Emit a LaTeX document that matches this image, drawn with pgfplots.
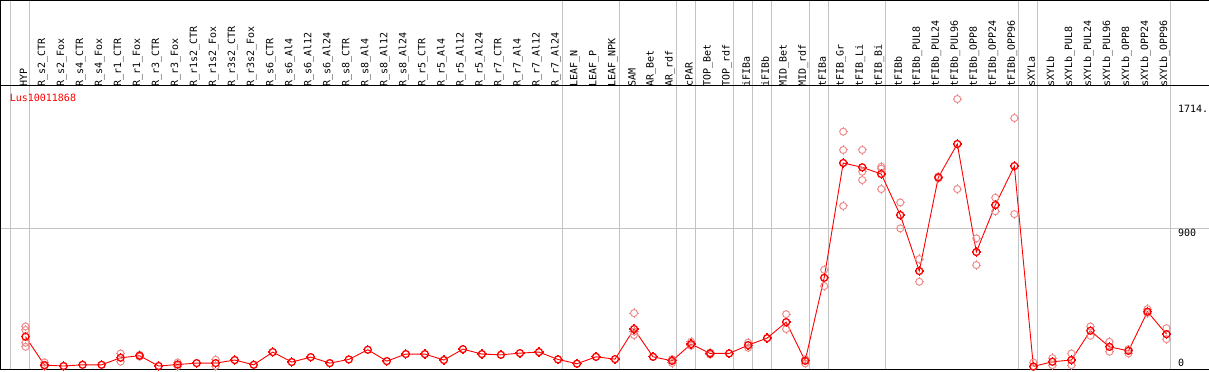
\documentclass[border=0pt]{standalone}
\usepackage{pgfplots}
\pgfplotsset{compat=1.18}
\usepackage{pgfplotstable}
\usepackage{fontspec}
\setmainfont{DejaVu Sans}
\newfontfamily\mono{DejaVu Sans Mono}
\definecolor{meanred}{RGB}{255,0,0}
\definecolor{reppink}{RGB}{238,140,140}
\definecolor{sepgray}{RGB}{195,195,195}

\pgfdeclareplotmark{ringtick}{%
  \pgfpathcircle{\pgfpointorigin}{3.5pt}\pgfusepathqstroke
  \pgfpathmoveto{\pgfpoint{0pt}{3.5pt}}\pgfpathlineto{\pgfpoint{0pt}{4.6pt}}%
  \pgfpathmoveto{\pgfpoint{0pt}{-3.5pt}}\pgfpathlineto{\pgfpoint{0pt}{-4.6pt}}%
  \pgfpathmoveto{\pgfpoint{3.5pt}{0pt}}\pgfpathlineto{\pgfpoint{4.6pt}{0pt}}%
  \pgfpathmoveto{\pgfpoint{-3.5pt}{0pt}}\pgfpathlineto{\pgfpoint{-4.6pt}{0pt}}%
  \pgfusepathqstroke}

\pgfplotstableread{
x v
0 196
1 11
2 5
3 13
4 13
5 59
6 72
7 5
8 15
9 24
10 24
11 44
12 13
13 96
14 31
15 63
16 24
17 48
18 111
19 37
20 83
21 83
22 44
23 115
24 83
25 78
26 89
27 96
28 48
29 20
30 65
31 50
32 246
33 65
34 39
35 148
36 87
37 87
38 141
39 187
40 291
41 39
42 580
43 1328
44 1300
45 1256
46 989
47 624
48 1234
49 1452
50 748
51 1054
52 1308
53 2
54 33
55 44
56 235
57 130
58 104
59 359
60 213
}\meantable

\pgfplotstableread{
x v
0 263
0 240
0 157
0 130
1 28
1 5
5 87
5 33
6 78
6 66
8 28
8 5
10 46
10 5
32 350
32 207
32 230
34 50
34 25
35 163
35 137
36 92
36 80
38 157
38 124
40 343
40 246
41 50
41 22
42 632
42 526
43 1532
43 1413
43 1048
44 1413
44 1271
44 1217
45 1304
45 1291
45 1158
46 1071
46 902
47 702
47 554
48 1240
48 1228
49 1745
49 1158
50 837
50 663
51 1102
51 1013
52 1621
52 995
53 28
53 0
54 57
54 11
55 87
55 11
56 263
56 202
57 163
57 98
58 87
58 115
59 376
59 350
60 252
60 180
}\reptable

\begin{document}
\begin{tikzpicture}
\begin{axis}[
  scale only axis,
  width=1207pt, height=284pt,
  xmin=-1.316, xmax=62.21,
  ymin=-19.6, ymax=1832.6,
  axis line style={draw=none},
  clip=false,
  xtick={0,...,60},
  xticklabels={HYP,R\_s2\_CTR,R\_s2\_Fox,R\_s4\_CTR,R\_s4\_Fox,R\_r1\_CTR,R\_r1\_Fox,R\_r3\_CTR,R\_r3\_Fox,R\_r1s2\_CTR,R\_r1s2\_Fox,R\_r3s2\_CTR,R\_r3s2\_Fox,R\_s6\_CTR,R\_s6\_Al4,R\_s6\_Al12,R\_s6\_Al24,R\_s8\_CTR,R\_s8\_Al4,R\_s8\_Al12,R\_s8\_Al24,R\_r5\_CTR,R\_r5\_Al4,R\_r5\_Al12,R\_r5\_Al24,R\_r7\_CTR,R\_r7\_Al4,R\_r7\_Al12,R\_r7\_Al24,LEAF\_N,LEAF\_P,LEAF\_NPK,SAM,AR\_Bet,AR\_rdf,cPAR,TOP\_Bet,TOP\_rdf,iFIBa,iFIBb,MID\_Bet,MID\_rdf,tFIBa,tFIB\_Gr,tFIB\_Li,tFIB\_Bi,tFIBb,tFIBb\_PUL8,tFIBb\_PUL24,tFIBb\_PUL96,tFIBb\_OPP8,tFIBb\_OPP24,tFIBb\_OPP96,sXYLa,sXYLb,sXYLb\_PUL8,sXYLb\_PUL24,sXYLb\_PUL96,sXYLb\_OPP8,sXYLb\_OPP24,sXYLb\_OPP96},
  xticklabel pos=upper,
  xtick style={draw=none},
  xticklabel style={rotate=90, anchor=west, font=\mono\fontsize{10}{12}\selectfont, inner sep=0pt, xshift=-1pt, yshift=2pt},
  ytick=\empty,
]
% separators
\pgfplotsinvokeforeach{-0.78,0.22,28.22,31.22,34.22,35.22,37.22,38.22,39.22,41.22,42.22,45.22,52.22,53.22,60.22}{
  \draw[sepgray, line width=1pt] (axis cs:#1,-19.6) -- ([yshift=85pt]axis cs:#1,1832.6);
}
\draw[sepgray, line width=1pt] (axis cs:-1.316,900) -- (axis cs:62.21,900);
% frame lines
\draw[black, line width=1pt] (axis cs:-1.316,-19.6) -- (axis cs:62.21,-19.6);
\draw[black, line width=1pt] (axis cs:-1.316,1832.6) -- (axis cs:62.21,1832.6);
\draw[black, line width=1pt] ([yshift=85pt]axis cs:-1.316,1832.6) -- ([yshift=85pt]axis cs:62.21,1832.6);
\draw[black, line width=1pt] (axis cs:-1.316,-19.6) -- ([yshift=85pt]axis cs:-1.316,1832.6);

\addplot[only marks, mark=ringtick, mark options={draw=reppink, line width=1pt}] table[x=x,y=v] {\reptable};
\addplot[meanred, line width=0.9pt, mark=ringtick, mark options={draw=meanred, line width=1.3pt}] table[x=x,y=v] {\meantable};

\node[anchor=west, inner sep=0pt, text=meanred, font=\mono\fontsize{10}{12}\selectfont] at (axis cs:-0.84,1754) {Lus10011868};
\node[anchor=west, inner sep=0pt, font=\mono\fontsize{10}{12}\selectfont] at (axis cs:60.6,1683) {1714.};
\node[anchor=west, inner sep=0pt, font=\mono\fontsize{10}{12}\selectfont] at (axis cs:60.6,874) {900};
\node[anchor=west, inner sep=0pt, font=\mono\fontsize{10}{12}\selectfont] at (axis cs:60.6,26) {0};
\end{axis}
\end{tikzpicture}
\end{document}
